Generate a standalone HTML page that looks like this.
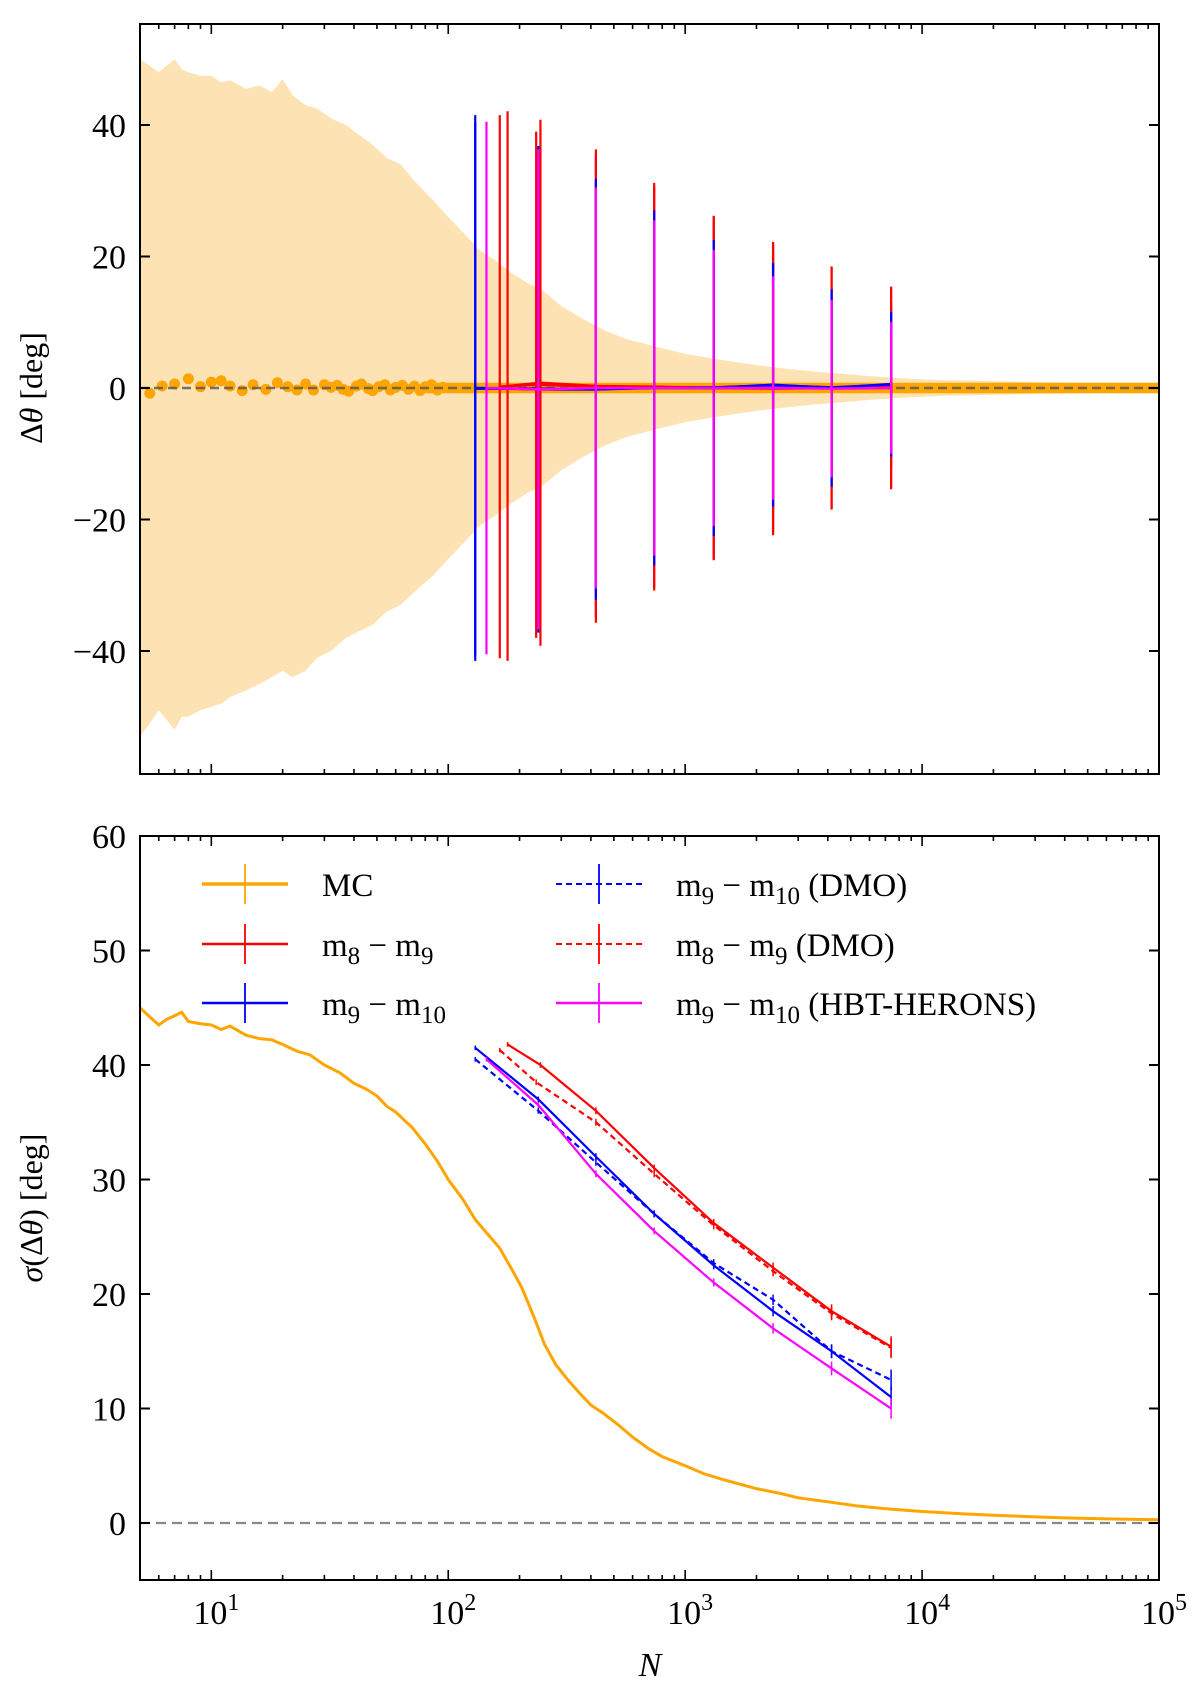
<!DOCTYPE html>
<html><head><meta charset="utf-8">
<style>
body{margin:0;background:#fff;}
svg{display:block;font-family:"Liberation Serif",serif;}
</style></head>
<body>
<svg id="fig" width="1200" height="1690" viewBox="0 0 1200 1690" xmlns="http://www.w3.org/2000/svg">
<defs>
<clipPath id="clipTop"><rect x="140" y="24" width="1019" height="750"/></clipPath>
<clipPath id="clipBot"><rect x="140" y="836" width="1019" height="744"/></clipPath>
</defs>
<g id="topPanel"></g>
<g id="botPanel"></g>
<text x="0" y="0" transform="translate(42,388) rotate(-90)" text-anchor="middle" font-size="32">Δ<tspan font-style="italic">θ</tspan> [deg]</text>
<text x="0" y="0" transform="translate(42,1208) rotate(-90)" text-anchor="middle" font-size="32"><tspan font-style="italic">σ</tspan>(Δ<tspan font-style="italic">θ</tspan>) [deg]</text>
<text x="650" y="1676" text-anchor="middle" font-size="34" font-style="italic">N</text>
<g id="legend"></g>
</svg>
<script>
// ---------- data ----------
const mcN     = [5,5.5,6,6.5,7,7.5,8,9,10,11,12,14,16,18,20,23,26,30,35,40,45,50,55,60,65,70,80,90,100,115,130,150,165,185,205,230,255,285,320,360,400,450,520,600,700,800,1000,1200,1500,2000,2500,3000,4000,5300,7000,10000,15000,20000,28000,40000,60000,100000];
const mcSigma = [45,44.2,43.5,44,44.3,44.6,43.8,43.6,43.5,43.1,43.4,42.6,42.3,42.2,41.8,41.2,40.9,40.0,39.3,38.4,37.9,37.3,36.4,35.9,35.2,34.6,33.1,31.6,30.0,28.3,26.5,25.0,24.0,22.2,20.5,18.0,15.6,13.8,12.5,11.3,10.3,9.6,8.6,7.5,6.5,5.8,5.0,4.3,3.7,3.0,2.6,2.2,1.85,1.5,1.25,1.0,0.8,0.68,0.56,0.45,0.36,0.28];
const bandN   = [5,5.5,6,7,7.5,8,9,10,11,12,14,16,18,20,22,25,28,32,37,42,48,55,63,72,86,100,116,135,157,185,215,249,300,370,455,560,769,1000,1406,1900,2570,3500,4520,6000,7950,12000,23000,50000,100000];
const bandHi  = [50,49,48,50,48.5,48,47.5,47.5,46.5,46.8,45.5,46,45,47,44.5,43,42.5,41,40,38.5,37,35,34,31.5,28.6,26,23.6,21,19.5,17.5,16,14.9,12.5,10.5,8.8,7.5,6.2,5.2,4.3,3.6,3.0,2.5,2.2,1.8,1.5,1.2,1.0,0.7,0.5];
const bandLo  = [-53,-51,-49,-52,-50,-50,-49,-48.5,-48,-47,-46,-45,-44,-43,-44,-43,-41,-40,-38,-37,-36,-34,-33,-31,-28.6,-26,-23.6,-21,-19.5,-17.5,-16,-14.9,-12.5,-10.5,-8.8,-7.5,-6.2,-5.2,-4.3,-3.6,-3.0,-2.5,-2.2,-1.8,-1.5,-1.2,-1.0,-0.7,-0.5];
const dotN    = [5.5,6.2,7,8,9,10,11,12,13.5,15,17,19,21,23,25,27,30,32,34,36,38,41,43,46,48,51,54,57,60,64,68,72,76,80,85,90,95];
const dotMean = [-0.8,0.3,0.6,1.4,0.2,0.9,1.1,0.3,-0.4,0.5,-0.2,0.8,0.2,-0.3,0.6,-0.3,0.5,0.1,0.4,-0.2,-0.5,0.3,0.6,-0.1,-0.4,0.2,0.5,-0.3,0.1,0.4,-0.2,0.3,-0.4,0.2,0.5,-0.3,0.1];
const simN    = [130,240,420,740,1320,2350,4150,7400];
const redN    = [178,245,420,740,1320,2350,4150,7400];
const redDmoN = [165,235,420,740,1320,2350,4150,7400];
const hbtN    = [145,240,420,740,1320,2350,4150,7400];
const sigRed     = [41.8,40.0,36.0,31.0,26.2,22.3,18.5,15.4];
const sigRedDmo  = [41.3,38.5,35.0,30.5,26.0,22.0,18.3,15.3];
const sigBlue    = [41.5,37.0,32.0,27.0,22.5,18.5,15.0,11.0];
const sigBlueDmo = [40.5,36.0,31.5,27.0,22.7,19.5,15.0,12.5];
const sigHbt     = [40.5,36.5,30.5,25.5,21.0,17.0,13.5,10.0];
const meanRed    = [0.3,0.8,0.3,0.2,0.0,-0.1,0.0,0.0];
const meanRedDmo = [0.2,0.5,0.2,0.1,0.0,0.0,0.0,0.1];
const meanBlue   = [0.0,-0.2,-0.2,0.0,0.0,0.5,0.0,0.6];
const meanBlueDmo= [-0.1,-0.1,-0.2,0.1,0.1,0.4,0.1,0.5];
const meanHbt    = [0.0,-0.2,0.0,0.0,0.0,0.0,-0.1,0.0];
const errBot     = [0.2,0.25,0.3,0.3,0.35,0.45,0.6,0.9];
const topTicks = [-40,-20,0,20,40];
const botTicks = [0,10,20,30,40,50,60];
const xDecades = [1,2,3,4,5];

// ---------- axes ----------
const X0=140, X1=1159;
const x = n => X0 + (Math.log10(n)-Math.log10(5))/(5-Math.log10(5))*(X1-X0);
const yT = v => 388 - v*6.575;
const yB = v => 1523 - v*11.45;
const NS="http://www.w3.org/2000/svg";
function mk(parent,tag,attrs){const e=document.createElementNS(NS,tag);for(const k in attrs)e.setAttribute(k,attrs[k]);parent.appendChild(e);return e;}
const topG=document.getElementById('topPanel'), botG=document.getElementById('botPanel');
const tc=mk(topG,'g',{'clip-path':'url(#clipTop)'});
const bc=mk(botG,'g',{'clip-path':'url(#clipBot)'});

let d='M'+bandN.map((n,i)=>x(n)+','+yT(bandHi[i])).join('L');
for(let i=bandN.length-1;i>=0;i--) d+='L'+x(bandN[i])+','+yT(bandLo[i]);
let el=mk(tc,'path',{d:d+'Z',fill:'#fde3b4'});


el=mk(tc,'rect',{x:x(80),y:yT(0.8),width:X1-x(80),height:yT(-0.8)-yT(0.8),fill:'#ffa500'});


dotN.forEach((n,i)=>{
  const c=mk(tc,'ellipse',{cx:x(n),cy:yT(dotMean[i]),rx:5.5,ry:5.5,fill:'#ffa500'});
  
  
});
el=mk(tc,'line',{x1:X0,x2:X1,y1:yT(0),y2:yT(0),stroke:'#555','stroke-width':2.5,'stroke-dasharray':'9,5',opacity:0.8});



const series=[
 {name:'blue-dmo',N:simN,m:meanBlueDmo,s:sigBlueDmo,c:'#0000ff',dash:'6,4'},
 {name:'red-dmo',N:redDmoN,m:meanRedDmo,s:sigRedDmo,c:'#ff0000',dash:'6,4'},
 {name:'red',N:redN,m:meanRed,s:sigRed,c:'#ff0000',dash:''},
 {name:'blue',N:simN,m:meanBlue,s:sigBlue,c:'#0000ff',dash:''},
 {name:'hbt',N:hbtN,m:meanHbt,s:sigHbt,c:'#ff00ff',dash:''}
];
series.forEach(S=>{
  const g=mk(tc,'g',{});
  
  
  mk(g,'polyline',{points:S.N.map((n,i)=>x(n)+','+yT(S.m[i])).join(' '),fill:'none',stroke:S.c,'stroke-width':2.5});
  S.N.forEach((n,i)=>{
    const l=mk(g,'line',{x1:x(n),x2:x(n),y1:yT(S.m[i]+S.s[i]),y2:yT(S.m[i]-S.s[i]),stroke:S.c,'stroke-width':2.2});
    
    
  });
  const gb=mk(bc,'g',{});
  
  
  mk(gb,'polyline',{points:S.N.map((n,i)=>x(n)+','+yB(S.s[i])).join(' '),fill:'none',stroke:S.c,'stroke-width':2.2,'stroke-dasharray':S.dash});
  S.N.forEach((n,i)=>{
    mk(gb,'line',{x1:x(n),x2:x(n),y1:yB(S.s[i]+errBot[i]),y2:yB(S.s[i]-errBot[i]),stroke:S.c,'stroke-width':1.5});
  });
});

el=mk(bc,'line',{x1:X0,x2:X1,y1:yB(0),y2:yB(0),stroke:'#888','stroke-width':2.2,'stroke-dasharray':'10,6'});


el=mk(bc,'polyline',{points:mcN.map((n,i)=>x(n)+','+yB(mcSigma[i])).join(' '),fill:'none',stroke:'#ffa500','stroke-width':3});



function frame(g,y0,y1,ticks,yf,isBottom){
  const r=mk(g,'rect',{x:X0,y:y0,width:X1-X0,height:y1-y0,fill:'none',stroke:'#000','stroke-width':2});
  
  
  ticks.forEach(v=>{
    const yy=yf(v);
    mk(g,'line',{x1:X0,x2:X0+10,y1:yy,y2:yy,stroke:'#000','stroke-width':2});
    mk(g,'line',{x1:X1-10,x2:X1,y1:yy,y2:yy,stroke:'#000','stroke-width':2});
    const t=mk(g,'text',{x:X0-14,y:yy+12,'text-anchor':'end','font-size':34});
    t.textContent=(v<0?'\u2212'+(-v):v);
    
    
  });
  for(let e=0;e<5;e++) for(let k=1;k<10;k++){
    const n=k*Math.pow(10,e); if(n<5||n>1e5) continue;
    const L=k===1?10:5;
    mk(g,'line',{x1:x(n),x2:x(n),y1:y1,y2:y1-L,stroke:'#000','stroke-width':1.6});
    mk(g,'line',{x1:x(n),x2:x(n),y1:y0,y2:y0+L,stroke:'#000','stroke-width':1.6});
  }
  if(isBottom){
    xDecades.forEach(e=>{
      const t=mk(g,'text',{x:x(Math.pow(10,e))+5,y:y1+44,'text-anchor':'middle','font-size':34});
      t.textContent='10';
      const s=mk(t,'tspan',{dy:-14,'font-size':24}); s.textContent=e;
      
      
    });
  }
}
frame(topG,24,774,topTicks,yT,false);
frame(botG,836,1580,botTicks,yB,true);

const lg=document.getElementById('legend');
const entries=[
 {c:'#ffa500',dash:'',w:3.5,x:202,y:884,t:['MC']},
 {c:'#ff0000',dash:'',w:2.5,x:202,y:944,t:['m','8',' \u2212 m','9']},
 {c:'#0000ff',dash:'',w:2.5,x:202,y:1003,t:['m','9',' \u2212 m','10']},
 {c:'#0000ff',dash:'6,4',w:2,x:556,y:884,t:['m','9',' \u2212 m','10',' (DMO)']},
 {c:'#ff0000',dash:'6,4',w:2,x:556,y:944,t:['m','8',' \u2212 m','9',' (DMO)']},
 {c:'#ff00ff',dash:'',w:2.5,x:556,y:1003,t:['m','9',' \u2212 m','10',' (HBT-HERONS)']}
];
entries.forEach(E=>{
  const g=mk(lg,'g',{});
  
  
  mk(g,'line',{x1:E.x,x2:E.x+86,y1:E.y,y2:E.y,stroke:E.c,'stroke-width':E.w,'stroke-dasharray':E.dash});
  mk(g,'line',{x1:E.x+43,x2:E.x+43,y1:E.y-20,y2:E.y+20,stroke:E.c,'stroke-width':1.8});
  const t=mk(g,'text',{x:E.x+120,y:E.y+12,'font-size':33});
  E.t.forEach((s,i)=>{
    const sub=(i===1||i===3);
    const ts=mk(t,'tspan',sub?{dy:8,'font-size':25}:{dy:(i>0?-8:0)});
    ts.textContent=s;
  });
});
</script>
</body></html>
